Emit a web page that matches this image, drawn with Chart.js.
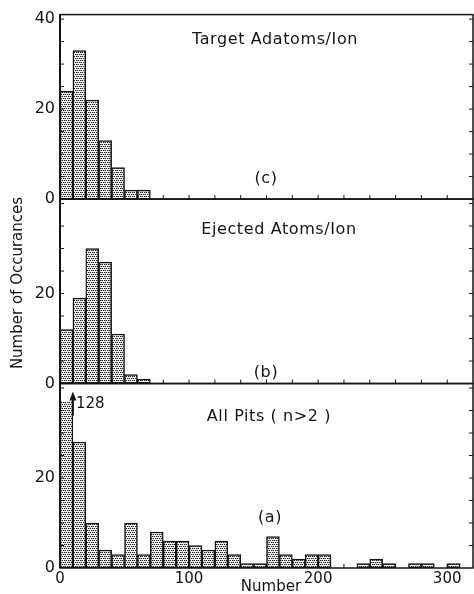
<!DOCTYPE html>
<html>
<head>
<meta charset="utf-8">
<script src="https://cdn.jsdelivr.net/npm/chart.js@4.4.0/dist/chart.umd.min.js"></script>
<style>
html, body { margin: 0; padding: 0; background: #fff; }
#contenedor { width: 474px; height: 594px; }
</style>
</head>
<body>
<div id="contenedor"><canvas id="graficaHistogramas" width="474" height="594"></canvas></div>
<script>
// Histogramas apilados: (c) adatomos, (b) atomos expulsados, (a) fosas

var anchoBin = 10;

var binesC = [0, 10, 20, 30, 40, 50, 60];
var adatomos = [24, 33, 22, 13, 7, 2, 2];

var binesB = [0, 10, 20, 30, 40, 50, 60];
var expulsados = [12, 19, 30, 27, 11, 2, 1];

var binesA = [0, 10, 20, 30, 40, 50, 60, 70, 80, 90, 100, 110, 120, 130, 140, 150,
              160, 170, 180, 190, 200, 230, 240, 250, 270, 280, 300];
var fosas = [128, 28, 10, 4, 3, 10, 3, 8, 6, 6, 5, 4, 6, 3, 1, 1,
             7, 3, 2, 3, 3, 1, 2, 1, 1, 1, 1];
var corteFosas = 37;   // la barra de 128 se corta aqui

var ticksX = [0, 100, 200, 300];
var ticksY = [0, 20, 40];

var fuente = 'DejaVu Sans';
var negro = '#141414';

function puntos(bines, cuentas) {
    return bines.map(function (b, i) { return { x: b + anchoBin / 2, y: cuentas[i] }; });
}

// relleno punteado (puntos escalonados)
function trama() {
    var c = document.createElement('canvas');
    c.width = 4; c.height = 4;
    var g = c.getContext('2d');
    g.fillStyle = '#f2f2f2';
    g.fillRect(0, 0, 4, 4);
    g.fillStyle = '#1e1e1e';
    g.fillRect(0, 0, 1, 1);
    g.fillRect(2, 0, 1, 1);
    g.fillRect(1, 2, 1, 1);
    g.fillRect(3, 2, 1, 1);
    g.fillStyle = '#9a9a9a';
    g.fillRect(1, 0, 1, 1);
    g.fillRect(0, 2, 1, 1);
    return g.createPattern(c, 'repeat');
}

function serie(bines, cuentas, eje) {
    return {
        data: puntos(bines, cuentas),
        yAxisID: eje,
        backgroundColor: trama(),
        borderColor: negro,
        borderWidth: 1.5,
        borderSkipped: false,
        barPercentage: 1,
        categoryPercentage: 1,
        grouped: false
    };
}

function ejePanel(peso, etiquetas) {
    return {
        type: 'linear',
        position: 'left',
        stack: 'paneles',
        stackWeight: 1,
        weight: peso,
        min: 0,
        max: 41,
        grid: { display: false, drawTicks: false },
        border: { display: false },
        ticks: { padding: 5, color: negro, font: { family: fuente, size: 16 } },
        afterBuildTicks: function (s) { s.ticks = etiquetas.map(function (v) { return { value: v }; }); },
        afterFit: function (s) { s.width = 60; }
    };
}

var marcos = {
    id: 'marcos',
    beforeDatasetDraw: function (chart, args) {
        var ys = chart.scales[args.meta.yAxisID];
        var arriba = ys.top;
        if (ys.id === 'yA') arriba = ys.getPixelForValue(corteFosas);
        var ctx = chart.ctx;
        ctx.save();
        ctx.beginPath();
        ctx.rect(chart.chartArea.left - 2, arriba, chart.chartArea.width + 4, ys.bottom - arriba + 2);
        ctx.clip();
    },
    afterDatasetDraw: function (chart) {
        chart.ctx.restore();
    },
    afterDraw: function (chart) {
        var ctx = chart.ctx;
        var xs = chart.scales.x;
        ctx.save();
        ctx.strokeStyle = negro;
        ctx.lineWidth = 1.5;
        ['yA', 'yB', 'yC'].forEach(function (id) {
            var ys = chart.scales[id];
            ctx.strokeRect(xs.left, ys.top, xs.right - xs.left, ys.bottom - ys.top);
            ctx.lineWidth = 1;
            ctx.beginPath();
            for (var v = 5; v < 41; v += 5) {
                var y = ys.getPixelForValue(v);
                ctx.moveTo(xs.left, y); ctx.lineTo(xs.left + 4, y);
                ctx.moveTo(xs.right, y); ctx.lineTo(xs.right - 4, y);
            }
            for (var u = 20; u < 320; u += 20) {
                var x = xs.getPixelForValue(u);
                ctx.moveTo(x, ys.bottom); ctx.lineTo(x, ys.bottom - 4);
            }
            ctx.stroke();
            ctx.lineWidth = 1.5;
        });
        // eje izquierdo mas grueso
        ctx.lineWidth = 2;
        ctx.beginPath();
        ctx.moveTo(xs.left, chart.chartArea.top);
        ctx.lineTo(xs.left, chart.chartArea.bottom);
        ctx.stroke();

        // flecha de la barra cortada
        var ya = chart.scales.yA;
        var xf = xs.getPixelForValue(binesA[1]);
        var yf = ya.getPixelForValue(corteFosas);
        ctx.lineWidth = 2;
        ctx.beginPath();
        ctx.moveTo(xf, yf + 14); ctx.lineTo(xf, yf - 4);
        ctx.stroke();
        ctx.fillStyle = negro;
        ctx.beginPath();
        ctx.moveTo(xf, yf - 10); ctx.lineTo(xf - 3.5, yf - 1); ctx.lineTo(xf + 3.5, yf - 1);
        ctx.closePath();
        ctx.fill();

        ctx.font = '15px "' + fuente + '"';
        ctx.textAlign = 'left';
        ctx.textBaseline = 'middle';
        ctx.fillText(String(fosas[0]), xf + 3, yf + 3);

        ctx.textAlign = 'center';
        ctx.font = '16px "' + fuente + '"';
        ctx.letterSpacing = '0.6px';
        ctx.fillText('Target Adatoms/Ion', 275, 40);
        ctx.fillText('Ejected Atoms/Ion', 279, 230);
        ctx.fillText('All Pits ( n>2 )', 269, 417);
        ctx.fillText('(c)', 266, 179);
        ctx.fillText('(b)', 266, 373);
        ctx.fillText('(a)', 270, 518);
        ctx.letterSpacing = '0px';
        ctx.font = '15px "' + fuente + '"';
        ctx.fillText('Number', 271, 587);

        ctx.translate(18, 283);
        ctx.rotate(-Math.PI / 2);
        ctx.fillText('Number of Occurances', 0, 0);
        ctx.restore();
    }
};

var grafica = new Chart(document.getElementById('graficaHistogramas').getContext('2d'), {
    type: 'bar',
    data: {
        datasets: [
            serie(binesA, fosas, 'yA'),
            serie(binesB, expulsados, 'yB'),
            serie(binesC, adatomos, 'yC')
        ]
    },
    options: {
        responsive: false,
        animation: false,
        devicePixelRatio: 1,
        layout: { padding: { top: 13, right: 1, left: 0, bottom: 0 } },
        plugins: { legend: { display: false }, tooltip: { enabled: false } },
        scales: {
            x: {
                type: 'linear',
                min: 0,
                max: 320,
                offset: false,
                grid: { display: false, drawTicks: false },
                border: { display: false },
                ticks: { padding: 2, maxRotation: 0, color: negro, font: { family: fuente, size: 15 } },
                afterBuildTicks: function (s) { s.ticks = ticksX.map(function (v) { return { value: v }; }); },
                afterFit: function (s) { s.height = 26; }
            },
            yA: ejePanel(1, ticksY.slice(0, 2)),
            yB: ejePanel(2, ticksY.slice(0, 2)),
            yC: ejePanel(3, ticksY)
        }
    },
    plugins: [marcos]
});
</script>
</body>
</html>
